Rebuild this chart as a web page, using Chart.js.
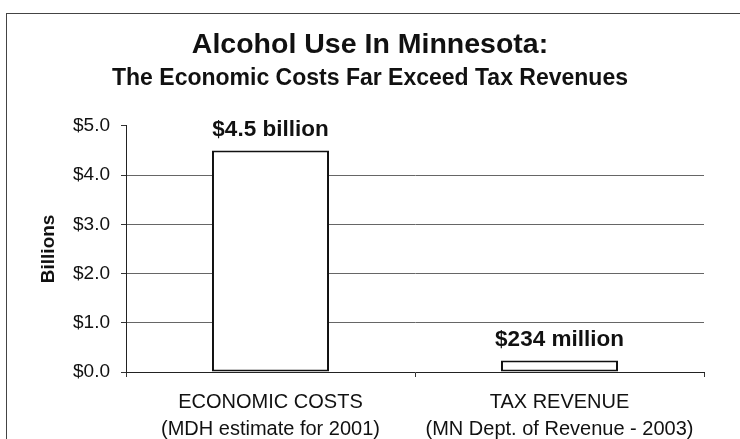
<!DOCTYPE html>
<html lang="en">
<head>
<meta charset="UTF-8">
<title>Alcohol Use In Minnesota</title>
<script src="https://cdn.jsdelivr.net/npm/chart.js"></script>
<style>
  body {
    margin: 0;
    background: #fff;
  }
  .wrap {
    position: relative;
    width: 740px;
    height: 439px;
    overflow: hidden;
  }
  .moldura {
    position: absolute;
    left: 6px;
    top: 13px;
    width: 760px;
    height: 460px;
    border-left: 1px solid #444;
    border-top: 1px solid #444;
  }
  #grafico {
    position: absolute;
    left: 0;
    top: 0;
  }
</style>
</head>
<body>
<div class="wrap">
  <div class="moldura"></div>
  <canvas id="grafico" width="740" height="439"></canvas>
</div>

<script>
// dados do grafico
const categorias = [
  ["ECONOMIC COSTS", "(MDH estimate for 2001)"],
  ["TAX REVENUE", "(MN Dept. of Revenue - 2003)"]
];
const valores = [4.5, 0.234];          // bilhoes de dolares
const rotulosBarras = ["$4.5 billion", "$234 million"];
const eixoMin = 0;
const eixoMax = 5;
const passo = 1;

const fonte = "'Liberation Sans', Arial, sans-serif";

// escreve o valor acima de cada barra
const rotulosPlugin = {
  id: "rotulos",
  afterDatasetsDraw(chart) {
    const ctx = chart.ctx;
    const meta = chart.getDatasetMeta(0);
    ctx.save();
    ctx.font = "bold 22.5px " + fonte;
    ctx.fillStyle = "#111";
    ctx.textAlign = "center";
    ctx.textBaseline = "alphabetic";
    meta.data.forEach((barra, i) => {
      ctx.fillText(rotulosBarras[i], barra.x, barra.y - 14);
    });
    ctx.restore();
  }
};

new Chart(document.getElementById("grafico"), {
  type: "bar",
  data: {
    labels: categorias,
    datasets: [{
      data: valores,
      backgroundColor: "#fff",
      borderColor: "#111",
      borderWidth: 2,
      borderSkipped: false,
      categoryPercentage: 1,
      barPercentage: 0.405
    }]
  },
  options: {
    responsive: false,
    animation: false,
    layout: { padding: 0 },
    plugins: {
      legend: { display: false },
      tooltip: { enabled: false },
      title: {
        display: true,
        text: "Alcohol Use In Minnesota:",
        color: "#111",
        font: { family: fonte, size: 28.5, weight: "bold", lineHeight: 1.2 },
        padding: { top: 28, bottom: 0 }
      },
      subtitle: {
        display: true,
        text: "The Economic Costs Far Exceed Tax Revenues",
        color: "#111",
        font: { family: fonte, size: 23, weight: "bold", lineHeight: 1.2 },
        padding: { top: 3, bottom: 33 }
      }
    },
    scales: {
      x: {
        offset: true,
        grid: {
          display: true,
          offset: true,
          drawOnChartArea: false,
          tickLength: 5,
          tickColor: "#333"
        },
        border: { display: true, color: "#222", width: 1 },
        ticks: {
          color: "#111",
          padding: 11.5,
          maxRotation: 0,
          font: { family: fonte, size: 20, lineHeight: 1.35 }
        },
        afterFit(scale) { scale.height = 67; }
      },
      y: {
        min: eixoMin,
        max: eixoMax,
        ticks: {
          stepSize: passo,
          color: "#111",
          padding: 11,
          font: { family: fonte, size: 19 },
          callback: v => "$" + Number(v).toFixed(1)
        },
        grid: {
          tickLength: 5,
          tickColor: "#333",
          color: c => (c.tick && (c.tick.value === eixoMax || c.tick.value === eixoMin)) ? "rgba(0,0,0,0)" : "#666"
        },
        border: { display: true, color: "#222", width: 1 },
        title: {
          display: true,
          text: "Billions",
          color: "#111",
          font: { family: fonte, size: 19, weight: "bold", lineHeight: 1.2 },
          padding: { top: 37, bottom: 0 }
        },
        afterFit(scale) { scale.width = 126; }
      },
      direita: {
        type: "linear",
        position: "right",
        display: true,
        ticks: { display: false },
        grid: { display: false },
        border: { display: false },
        afterFit(scale) { scale.width = 36; }
      }
    }
  },
  plugins: [rotulosPlugin]
});
</script>
</body>
</html>
